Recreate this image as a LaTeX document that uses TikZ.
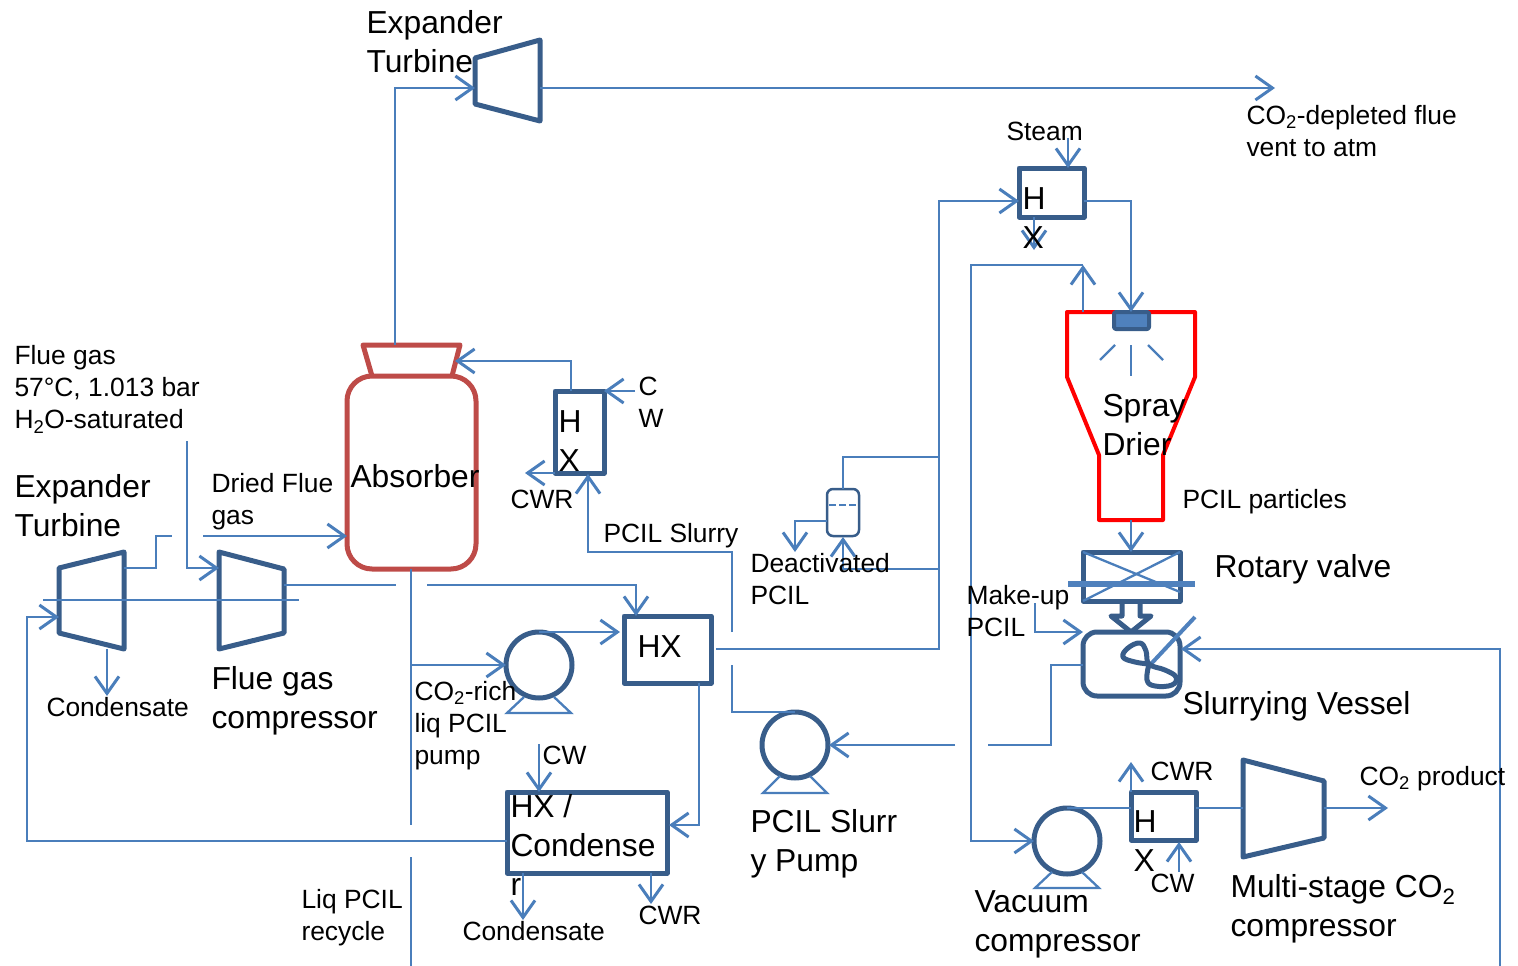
\documentclass[tikz,border=0pt]{standalone}
\usepackage{fontspec}
\setmainfont{Liberation Sans}
\usetikzlibrary{arrows.meta}
\definecolor{unitblue}{HTML}{385D8A}
\definecolor{flowblue}{HTML}{4A7EBB}
\definecolor{fillblue}{HTML}{4F81BD}
\definecolor{absred}{HTML}{BE4B48}
\begin{document}
\begin{tikzpicture}[
      x=1pt,y=-1pt,
      unit/.style={draw=unitblue,line width=5pt,inner sep=0pt,outer sep=0pt,line join=round},
      absunit/.style={unit,draw=absred},
      pipe/.style={draw=flowblue,line width=2.3pt},
      flow/.style={pipe,-{Straight Barb[length=17pt,width=24pt,line width=3pt]}},
      lbl/.style={anchor=north west,align=left,inner sep=0pt,xshift=-0.7pt,font=\fontsize{26.4}{32}\selectfont,execute at begin node=\strut},
      biglbl/.style={lbl,font=\fontsize{31.8}{39}\selectfont},
    ]
        \useasboundingbox (0,0) rectangle (1518,966);
        % drier goes under the nozzle
        \draw[unit,draw=red,line width=4pt] (1067,312) -- (1195,312) -- (1195,377) -- (1163,455) -- (1163,520) -- (1099,520) -- (1099,455) -- (1067,377) -- cycle;
        % equipment
        \node[absunit,rounded corners=25pt,minimum width=129pt,minimum height=193pt] (absorber) at (411.5,472.5) {};
        \node[unit,minimum width=49pt,minimum height=82pt] (abshx) at (579.5,432) {};
        \node[unit,minimum width=87pt,minimum height=67pt] (mainhx) at (667.5,649.5) {};
        \node[unit,minimum width=160pt,minimum height=81pt] (condenser) at (587,832.5) {};
        \node[unit,minimum width=65pt,minimum height=49pt] (tophx) at (1051.5,192.5) {};
        \node[unit,minimum width=65pt,minimum height=48pt] (vachx) at (1163.5,816) {};
        \node[unit,minimum width=97pt,minimum height=49pt] (valve) at (1131.5,576.5) {};
        \node[unit,rounded corners=14pt,minimum width=97pt,minimum height=64pt] (vessel) at (1131.5,664) {};
        \node[unit,line width=2.5pt,rounded corners=6pt,minimum width=32pt,minimum height=47pt] (knockout) at (843,512.5) {};
        \node[unit,line width=4pt,fill=fillblue,rounded corners=2pt,minimum width=35pt,minimum height=17pt] (nozzle) at (1131.5,320.5) {};
        \node[unit,circle,minimum size=66pt] (richpump) at (539,665) {};
        \node[unit,circle,minimum size=66pt] (slurrypump) at (795,745) {};
        \node[unit,circle,minimum size=66pt] (vacpump) at (1067,841) {};
        % turbines and absorber cap
        \draw[unit] (475,58) -- (540,40) -- (540,121) -- (475,104) -- cycle;
        \draw[unit] (59,568) -- (124,552) -- (124,649) -- (59,633) -- cycle;
        \draw[unit] (219,552) -- (284,569) -- (284,633) -- (219,649) -- cycle;
        \draw[unit] (1243,760) -- (1324,781) -- (1324,838) -- (1243,857) -- cycle;
        \draw[absunit] (372,376) -- (363,345) -- (460,345) -- (452,376);
        % pump feet
        \draw[pipe] (524,697) -- (507,713) -- (571,713) -- (554,697);
        \draw[pipe] (780,776) -- (763,793) -- (827,793) -- (810,776);
        \draw[pipe] (1052,872) -- (1035,888) -- (1099,888) -- (1082,872);
        % details
        \draw[pipe,dash pattern=on 7pt off 3pt] (829,505) -- (858,505);
        \draw[pipe] (1115,345) -- (1100,360);
        \draw[pipe] (1131,345) -- (1131,376);
        \draw[pipe] (1148,345) -- (1163,360);
        \draw[pipe] (1083,552) -- (1180,592);
        \draw[pipe] (1083,601) -- (1180,552);
        \draw[draw=fillblue,line width=6pt] (1068,584) -- (1195,584);
        \draw[unit] (1122,601) -- (1122,616) -- (1111,616) -- (1131,632) -- (1151,616) -- (1140,616) -- (1140,601);
        \draw[draw=fillblue,line width=4pt] (1195,617) -- (1150,665);
        \draw[unit] plot[smooth,tension=.7] coordinates {(1149,664) (1135,662) (1123,657) (1128,648) (1140,643) (1146,651) (1149,664) (1165,670) (1176,677) (1172,685) (1155,686) (1147,680) (1149,664)};
        % free ends of the connectors
        \coordinate (capout) at (395,345);
        \coordinate (topturbin) at (475,88);
        \coordinate (topturbout) at (540,88);
        \coordinate (vent) at (1275,88);
        \coordinate (hxliqout) at (571,391);
        \coordinate (capin) at (455,361);
        \coordinate (cwin) at (635,391);
        \coordinate (hxcw) at (604,391);
        \coordinate (hxcwr) at (555,473);
        \coordinate (cwrout) at (525,473);
        \coordinate (slurrystart) at (732,632);
        \coordinate (slurrybend) at (588,552);
        \coordinate (hxslurryin) at (588,474);
        \coordinate (hxout) at (716,649);
        \coordinate (riser) at (939,649);
        \coordinate (tophxin) at (1019,201);
        \coordinate (riserup) at (939,457);
        \coordinate (riserlow) at (939,569);
        \coordinate (koin) at (843,537);
        \coordinate (koside) at (827,521);
        \coordinate (deactout) at (795,552);
        \coordinate (steam) at (1068,138);
        \coordinate (tophxsteam) at (1068,168);
        \coordinate (tophxdown) at (1034,217);
        \coordinate (tophxdrain) at (1034,250);
        \coordinate (tophxout) at (1084,201);
        \coordinate (nozzletop) at (1131,312);
        \coordinate (drierout) at (1083,312);
        \coordinate (drierup) at (1083,265);
        \coordinate (vacrun) at (971,265);
        \coordinate (vacin) at (1034,841);
        \coordinate (drierfoot) at (1131,520);
        \coordinate (valvetop) at (1131,552);
        \coordinate (makeup) at (1035,603);
        \coordinate (vesselin) at (1083,632);
        \coordinate (vesselout) at (1083,665);
        \coordinate (vesselbend) at (1051,745);
        \coordinate (gapright) at (988,745);
        \coordinate (gapleft) at (955,745);
        \coordinate (slurrypumpin) at (829,745);
        \coordinate (mainhxlow) at (732,665);
        \coordinate (recyclefoot) at (1500,966);
        \coordinate (vesselright) at (1181,649);
        \coordinate (fluegas) at (187,441);
        \coordinate (compin) at (219,568);
        \coordinate (expout) at (124,568);
        \coordinate (expup) at (156,536);
        \coordinate (expend) at (172,536);
        \coordinate (driedstart) at (203,536);
        \coordinate (absin) at (347,536);
        \coordinate (shaftleft) at (43,600);
        \coordinate (shaftright) at (299,600);
        \coordinate (compout) at (284,585);
        \coordinate (gapa) at (396,585);
        \coordinate (gapb) at (427,585);
        \coordinate (mainhxtop) at (636,616);
        \coordinate (absfoot) at (411,569);
        \coordinate (gapc) at (411,825);
        \coordinate (gapd) at (411,857);
        \coordinate (liqend) at (411,966);
        \coordinate (pumpbranch) at (411,665);
        \coordinate (richpumpin) at (506,665);
        \coordinate (richpumpout) at (539,632);
        \coordinate (mainhxin) at (620,632);
        \coordinate (mainhxdown) at (699,683);
        \coordinate (condin) at (669,825);
        \coordinate (condcw) at (539,744);
        \coordinate (condtop) at (539,792);
        \coordinate (condleft) at (507,841);
        \coordinate (leftrun) at (27,841);
        \coordinate (expin) at (59,617);
        \coordinate (condbot) at (523,873);
        \coordinate (condrain) at (523,920);
        \coordinate (condbotb) at (651,873);
        \coordinate (condcwr) at (651,904);
        \coordinate (expfoot) at (107,649);
        \coordinate (exprain) at (107,696);
        \coordinate (vacout) at (1067,808);
        \coordinate (vachxin) at (1131,808);
        \coordinate (vachxtop) at (1131,792);
        \coordinate (vaccwr) at (1131,762);
        \coordinate (vaccw) at (1179,872);
        \coordinate (vachxbot) at (1179,842);
        \coordinate (vachxout) at (1196,808);
        \coordinate (multiin) at (1243,808);
        \coordinate (multiout) at (1324,808);
        \coordinate (product) at (1388,808);
        % connectors
        \draw[flow] (capout) |- (topturbin);
        \draw[flow] (topturbout) -- (vent);
        \draw[flow] (hxliqout) |- (capin);
        \draw[flow] (cwin) -- (hxcw);
        \draw[flow] (hxcwr) -- (cwrout);
        \draw[flow] (slurrystart) |- (slurrybend) -- (hxslurryin);
        \draw[flow] (hxout) -| (riser) |- (tophxin);
        \draw[pipe] (riserup) -| (knockout.north);
        \draw[flow] (riserlow) -| (koin);
        \draw[flow] (koside) -| (deactout);
        \draw[flow] (steam) -- (tophxsteam);
        \draw[flow] (tophxdown) -- (tophxdrain);
        \draw[flow] (tophxout) -| (nozzletop);
        \draw[flow] (drierout) -- (drierup);
        \draw[flow] (drierup) -| (vacrun) |- (vacin);
        \draw[flow] (drierfoot) -- (valvetop);
        \draw[flow] (makeup) |- (vesselin);
        \draw[pipe] (vesselout) -| (vesselbend) -- (gapright);
        \draw[flow] (gapleft) -- (slurrypumpin);
        \draw[pipe] (slurrypump.north) -| (mainhxlow);
        \draw[flow] (recyclefoot) |- (vesselright);
        \draw[flow] (fluegas) |- (compin);
        \draw[pipe] (expout) -| (expup) -- (expend);
        \draw[flow] (driedstart) -- (absin);
        \draw[pipe] (shaftleft) -- (shaftright);
        \draw[pipe] (compout) -- (gapa);
        \draw[flow] (gapb) -| (mainhxtop);
        \draw[pipe] (absfoot) -- (gapc);
        \draw[pipe] (gapd) -- (liqend);
        \draw[flow] (pumpbranch) -- (richpumpin);
        \draw[flow] (richpumpout) -- (mainhxin);
        \draw[flow] (mainhxdown) |- (condin);
        \draw[flow] (condcw) -- (condtop);
        \draw[flow] (condleft) -| (leftrun) |- (expin);
        \draw[flow] (condbot) -- (condrain);
        \draw[flow] (condbotb) -- (condcwr);
        \draw[flow] (expfoot) -- (exprain);
        \draw[pipe] (vacout) -- (vachxin);
        \draw[flow] (vachxtop) -- (vaccwr);
        \draw[flow] (vaccw) -- (vachxbot);
        \draw[pipe] (vachxout) -- (multiin);
        \draw[flow] (multiout) -- (product);
        % labels
        \node[biglbl] (toplabel) at (367,10) {Expander\\Turbine};
        \node[biglbl] (leftlabel) at (15,474) {Expander\\Turbine};
        \node[biglbl] (complabel) at (212,666.5) {Flue gas\\compressor};
        \node[biglbl] (abslabel) at (351,460) {Absorber};
        \node[biglbl] (abshxlabel) at (559,410) {H\\X};
        \node[biglbl] (mainhxlabel) at (638,630) {HX};
        \node[biglbl] (condlabel) at (511,794) {HX /\\Condense\\r};
        \node[biglbl] (tophxlabel) at (1023,187) {H\\X};
        \node[biglbl] (drierlabel) at (1103,394.5) {Spray\\Drier};
        \node[biglbl] (valvelabel) at (1215,550) {Rotary valve};
        \node[biglbl] (vessellabel) at (1183,687) {Slurrying Vessel};
        \node[biglbl] (slurrypumplabel) at (751,809.5) {PCIL Slurr\\y Pump};
        \node[biglbl] (vaclabel) at (975,890.5) {Vacuum\\compressor};
        \node[biglbl] (vachxlabel) at (1134,810) {H\\X};
        \node[biglbl] (multilabel) at (1231,874.5) {Multi-stage CO\textsubscript{2}\\compressor};
        \node[lbl] (gaslabel) at (15,345.5) {Flue gas\\57°C, 1.013 bar\\H\textsubscript{2}O-saturated};
        \node[lbl] (driedlabel) at (212,473) {Dried Flue\\gas};
        \node[lbl] (conleft) at (47,694) {Condensate};
        \node[lbl] (cwlabel) at (639,377) {C\\W};
        \node[lbl] (cwrlabel) at (511,486) {CWR};
        \node[lbl] (slurrylabel) at (604,520) {PCIL Slurry};
        \node[lbl] (deactlabel) at (751,553) {Deactivated\\PCIL};
        \node[lbl] (richlabel) at (415,681) {CO\textsubscript{2}-rich\\liq PCIL\\pump};
        \node[lbl] (condcwlabel) at (543,742) {CW};
        \node[lbl] (liqlabel) at (302,889) {Liq PCIL\\recycle};
        \node[lbl] (conbottom) at (463,918) {Condensate};
        \node[lbl] (condcwrlabel) at (639,902) {CWR};
        \node[lbl] (steamlabel) at (1007,118) {Steam};
        \node[lbl] (ventlabel) at (1247,105) {CO\textsubscript{2}-depleted flue\\vent to atm};
        \node[lbl] (particlelabel) at (1183,486) {PCIL particles};
        \node[lbl] (makeuplabel) at (967,585) {Make-up\\PCIL};
        \node[lbl] (vaccwrlabel) at (1151,758) {CWR};
        \node[lbl] (vaccwlabel) at (1151,870) {CW};
        \node[lbl] (productlabel) at (1360,763) {CO\textsubscript{2} product};
    \end{tikzpicture}
\end{document}
